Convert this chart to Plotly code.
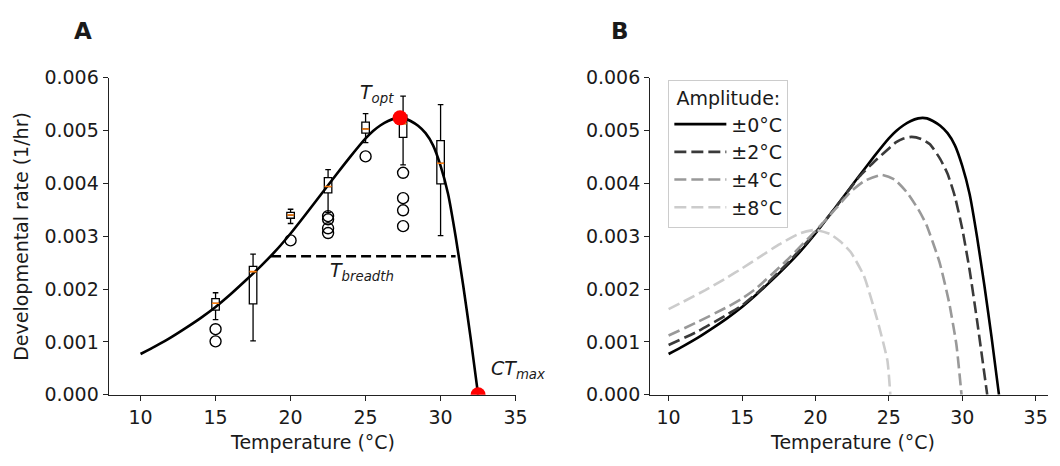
import plotly.graph_objects as go

# ---------------- data ----------------
# Panel A: fitted thermal performance curve (constant temperature)
temp_curve = [10, 11, 12, 13, 14, 15, 16, 17, 18, 19, 20, 21, 22, 23, 24, 25, 25.5, 26, 26.5, 27, 27.3,
              27.6, 28, 28.5, 29, 29.5, 30, 30.5, 31, 31.5, 32, 32.5]
rate_curve = [0.00077, 0.00092, 0.00108, 0.00126, 0.00145, 0.00166, 0.00190, 0.00216, 0.00243, 0.00272,
              0.00305, 0.00341, 0.00378, 0.00415, 0.00451, 0.00485, 0.00499, 0.00510, 0.00518, 0.00523, 0.00524,
              0.00523, 0.00518, 0.00509, 0.00495, 0.00472, 0.00433, 0.00380, 0.00300, 0.00208, 0.00108, 0.0]

# Boxplots of observed rates
box_temp = [15, 17.5, 20, 22.5, 25, 27.5, 30]
box_lowfence = [0.00142, 0.00102, 0.00324, 0.00345, 0.00477, 0.00435, 0.00301]
box_q1 = [0.00160, 0.00172, 0.00334, 0.00382, 0.00495, 0.00487, 0.00399]
box_median = [0.00173, 0.00233, 0.00340, 0.00394, 0.00503, 0.00513, 0.00438]
box_q3 = [0.00182, 0.00243, 0.00345, 0.00411, 0.00516, 0.00529, 0.00481]
box_upfence = [0.00193, 0.00266, 0.00351, 0.00426, 0.00532, 0.00565, 0.00549]

outlier_temp = [15, 15, 20, 22.5, 22.5, 22.5, 22.5, 25, 27.5, 27.5, 27.5, 27.5]
outlier_rate = [0.00124, 0.00101, 0.00292, 0.00338, 0.00332, 0.00315, 0.00306, 0.00451,
                0.00420, 0.00372, 0.00349, 0.00319]

# Key points
topt_temp, topt_rate = 27.3, 0.00524
ctmax_temp, ctmax_rate = 32.5, 0.0
tbreadth_temp = [18.7, 31.0]
tbreadth_rate = [0.00262, 0.00262]

# Panel B: curves under temperature fluctuation
amp_labels = ["±0°C", "±2°C", "±4°C", "±8°C"]
amp0_temp = temp_curve
amp0_rate = rate_curve
amp2_temp = [10, 12, 14, 15, 16, 18, 20, 22, 23, 24, 24.6, 25.5, 26, 26.55, 27.2, 27.8, 28.5, 29, 29.5,
             30, 30.5, 31, 31.7]
amp2_rate = [0.00094, 0.00120, 0.00152, 0.00169, 0.00192, 0.00246, 0.00307, 0.00377, 0.00413, 0.00441,
             0.00456, 0.00478, 0.00485, 0.00488, 0.00484, 0.00474, 0.00446, 0.00418, 0.00375,
             0.00314, 0.00236, 0.00142, 0.0]
amp4_temp = [10, 12, 14, 15, 16, 18, 20, 21, 22.4, 23.3, 24.5, 25.4, 26.2, 27, 27.55, 28.45, 29.1, 29.6, 29.95]
amp4_rate = [0.00112, 0.00138, 0.00166, 0.00182, 0.00202, 0.00253, 0.00310, 0.00340, 0.00384, 0.00404,
             0.00416, 0.00407, 0.00384, 0.00351, 0.00322, 0.00251, 0.00175, 0.00095, 0.0]
amp8_temp = [10, 11, 12.5, 14, 15, 16, 17.5, 19, 20, 21, 21.7, 22.4, 23.3, 24.2, 24.9, 25.1]
amp8_rate = [0.00162, 0.00176, 0.00198, 0.00222, 0.00239, 0.00257, 0.00284, 0.00306, 0.00312, 0.00304,
             0.00290, 0.00270, 0.00225, 0.00143, 0.00065, 0.0]

x_ticks = [10, 15, 20, 25, 30, 35]
y_ticks = [0.000, 0.001, 0.002, 0.003, 0.004, 0.005, 0.006]

# ---------------- figure ----------------
FONT = "DejaVu Sans"
TXT = "#1a1a1a"
fig = go.Figure()

# Panel A
fig.add_trace(go.Scatter(x=temp_curve, y=rate_curve, mode="lines",
                         line=dict(color="black", width=2.6, shape="spline", smoothing=0.5),
                         showlegend=False, xaxis="x", yaxis="y"))
fig.add_trace(go.Scatter(x=tbreadth_temp, y=tbreadth_rate, mode="lines",
                         line=dict(color="black", width=2.3, dash="10px,5px"), showlegend=False, xaxis="x", yaxis="y"))
fig.add_trace(go.Box(x=box_temp, q1=box_q1, median=box_median, q3=box_q3, lowerfence=box_lowfence,
                     upperfence=box_upfence, boxpoints=False, fillcolor="white", width=0.5, whiskerwidth=0.75,
                     line=dict(color="black", width=1.3), showlegend=False, xaxis="x", yaxis="y"))
med_x, med_y = [], []
for t, m in zip(box_temp, box_median):
    med_x += [t - 0.24, t + 0.24, None]
    med_y += [m, m, None]
fig.add_trace(go.Scatter(x=med_x, y=med_y, mode="lines", line=dict(color="#ff7f0e", width=1.6),
                         showlegend=False, xaxis="x", yaxis="y"))
fig.add_trace(go.Scatter(x=outlier_temp, y=outlier_rate, mode="markers",
                         marker=dict(symbol="circle-open", size=11, color="black", line=dict(width=1.4)),
                         showlegend=False, xaxis="x", yaxis="y"))
fig.add_trace(go.Scatter(x=[topt_temp, ctmax_temp], y=[topt_rate, ctmax_rate], mode="markers",
                         marker=dict(size=15, color="#ff0000"), showlegend=False, xaxis="x", yaxis="y"))

# Panel B
styles = [("black", "solid", amp0_temp, amp0_rate), ("#3a3a3a", "12px,5px", amp2_temp, amp2_rate),
          ("#999999", "12px,5px", amp4_temp, amp4_rate), ("#cccccc", "12px,5px", amp8_temp, amp8_rate)]
for lab, (col, dash, tx, ry) in zip(amp_labels, styles):
    fig.add_trace(go.Scatter(x=tx, y=ry, mode="lines", name=lab,
                             line=dict(color=col, width=2.6, dash=dash, shape="spline", smoothing=0.5),
                             xaxis="x2", yaxis="y2"))

axis_common = dict(showline=True, linecolor="#222", linewidth=1.3, ticks="outside", ticklen=5, tickwidth=1.3,
                   tickcolor="#222", showgrid=False, zeroline=False,
                   tickfont=dict(family=FONT, size=19, color=TXT))
ydom = [(466 - 402.7) / 466, (466 - 70) / 466]
fig.update_layout(
    width=1060, height=466, margin=dict(l=0, r=0, t=0, b=0),
    paper_bgcolor="white", plot_bgcolor="white",
    font=dict(family=FONT, size=19, color=TXT),
    xaxis=dict(domain=[110 / 1060, 521.5 / 1060], range=[7.88, 35.0], tickvals=x_ticks, anchor="y", **axis_common),
    yaxis=dict(domain=ydom, range=[0, 0.006], tickvals=y_ticks, tickformat=".3f", anchor="x", **axis_common),
    xaxis2=dict(domain=[657.7 / 1060, 1.0], range=[8.75, 35.84], tickvals=x_ticks, anchor="y2", **axis_common),
    yaxis2=dict(domain=ydom, range=[0, 0.006], tickvals=y_ticks, tickformat=".3f", anchor="x2", **axis_common),
    legend=dict(x=676 / 1060, y=(466 - 72) / 466, xanchor="left", yanchor="top",
                bgcolor="rgba(255,255,255,0.85)", bordercolor="#cccccc", borderwidth=1,
                font=dict(family=FONT, size=19, color=TXT), itemwidth=52,
                title=dict(text="Amplitude:", side="top center", font=dict(family=FONT, size=19, color=TXT)),
                tracegroupgap=0),
    showlegend=True,
)

ann = [
    dict(text="<b>A</b>", x=84 / 1060, y=(466 - 21) / 466, xref="paper", yref="paper", font=dict(size=23)),
    dict(text="<b>B</b>", x=627 / 1060, y=(466 - 21) / 466, xref="paper", yref="paper", font=dict(size=23)),
    dict(text="Temperature (°C)", x=316 / 1060, y=(466 - 452.7) / 466, xref="paper", yref="paper"),
    dict(text="Temperature (°C)", x=862 / 1060, y=(466 - 452.7) / 466, xref="paper", yref="paper"),
    dict(text="Developmental rate (1/hr)", x=21.7 / 1060, y=(466 - 236.5) / 466, xref="paper", yref="paper",
         textangle=-90),
    dict(text="<i>T</i><sub><i>opt</i></sub>", x=381 / 1060, y=(466 - 87) / 466, xref="paper", yref="paper"),
    dict(text="<i>T</i><sub><i>breadth</i></sub>", x=366 / 1060, y=(466 - 273) / 466, xref="paper", yref="paper"),
    dict(text="<i>CT</i><sub><i>max</i></sub>", x=524 / 1060, y=(466 - 376) / 466, xref="paper", yref="paper"),
]
for a in ann:
    a.setdefault("font", {})
    a["font"] = dict(family=FONT, size=a["font"].get("size", 19), color=TXT)
    a.update(showarrow=False, xanchor="center", yanchor="middle")
fig.update_layout(annotations=ann)

fig.write_html("out.html")
